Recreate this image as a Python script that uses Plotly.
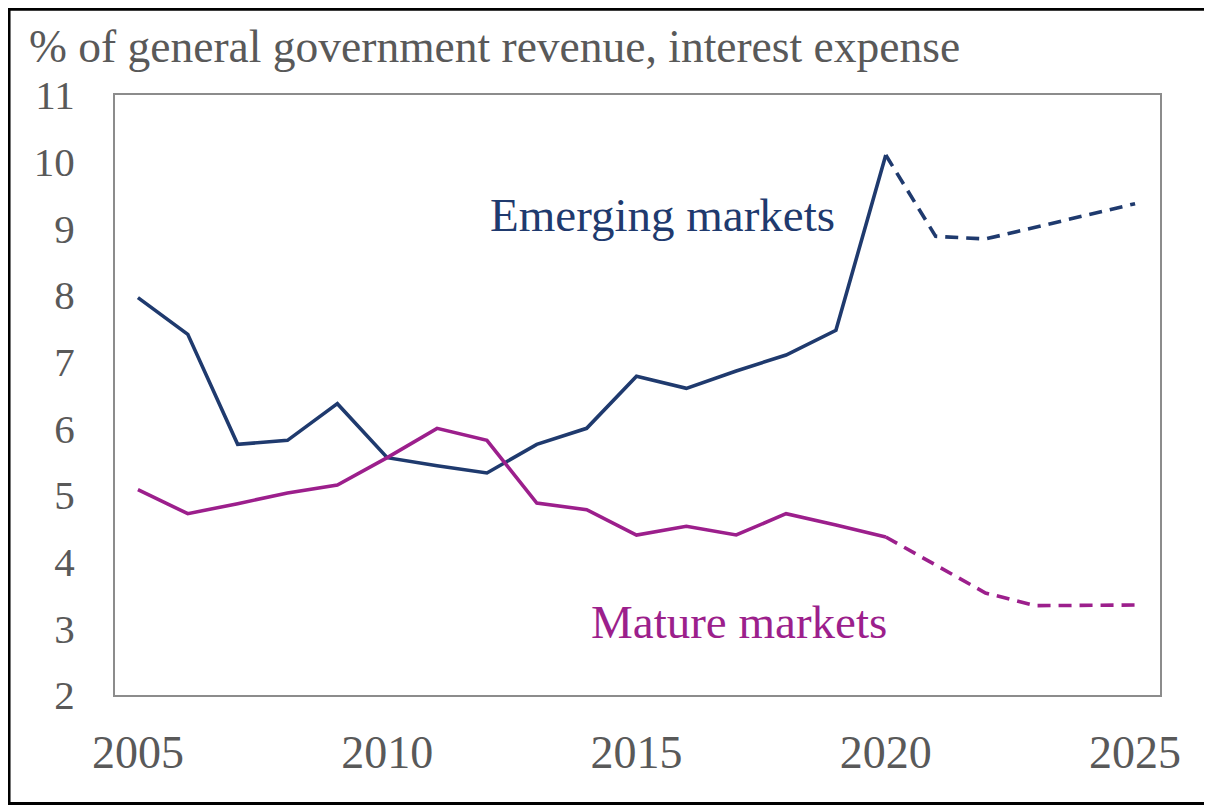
import plotly.graph_objects as go

years = list(range(2005, 2026))
emerging = [7.96, 7.41, 5.76, 5.82, 6.37, 5.56, 5.44, 5.33, 5.76, 6.00, 6.78,
            6.60, 6.86, 7.10, 7.47, 10.10, 8.88, 8.84, 9.02, 9.20, 9.37]
mature = [5.08, 4.72, 4.87, 5.03, 5.15, 5.56, 6.00, 5.82, 4.88, 4.78, 4.40,
          4.53, 4.40, 4.72, 4.55, 4.37, 3.95, 3.53, 3.34, 3.35, 3.35]
last_actual = 2020
x_ticks = [2005, 2010, 2015, 2020, 2025]
y_ticks = list(range(2, 12))

NAVY = "#1f3a6e"
PURPLE = "#9c1f8c"
GRAY = "#595959"
FONT = "Liberation Serif"

k = years.index(last_actual)

fig = go.Figure()
for vals, col in [(emerging, NAVY), (mature, PURPLE)]:
    fig.add_trace(go.Scatter(x=years[:k + 1], y=vals[:k + 1], mode="lines",
                             line=dict(color=col, width=3.6), showlegend=False,
                             hoverinfo="skip"))
    fig.add_trace(go.Scatter(x=years[k:], y=vals[k:], mode="lines",
                             line=dict(color=col, width=3.6, dash="13px,8px"),
                             showlegend=False, hoverinfo="skip"))

fig.add_annotation(x=2012.02, y=9.2, xref="x", yref="y", text="Emerging markets",
                   showarrow=False, xanchor="left", yanchor="middle",
                   font=dict(family=FONT, size=47, color=NAVY))
fig.add_annotation(x=2014.05, y=3.1, xref="x", yref="y", text="Mature markets",
                   showarrow=False, xanchor="left", yanchor="middle",
                   font=dict(family=FONT, size=47, color=PURPLE))
fig.add_annotation(x=-0.0843, y=1.08, xref="paper", yref="paper",
                   text="% of general government revenue, interest expense",
                   showarrow=False, xanchor="left", yanchor="middle",
                   font=dict(family=FONT, size=45.5, color=GRAY))

# outer black border
fig.add_shape(type="rect", xref="paper", yref="paper",
              x0=-0.1014, x1=1.0478, y0=-0.181, y1=1.143,
              line=dict(color="black", width=3), fillcolor="rgba(0,0,0,0)")

fig.update_xaxes(range=[2004.54, 2025.5], tickvals=x_ticks,
                 ticktext=[str(v) for v in x_ticks], showgrid=False,
                 zeroline=False, showline=True, mirror=True,
                 linecolor="#8c8c8c", linewidth=2, ticks="",
                 ticklabelstandoff=16,
                 tickfont=dict(family=FONT, size=46, color=GRAY))
fig.update_yaxes(range=[2, 11], tickvals=y_ticks,
                 ticktext=[str(v) for v in y_ticks], showgrid=False,
                 zeroline=False, showline=True, mirror=True,
                 linecolor="#8c8c8c", linewidth=2, ticks="",
                 ticklabelstandoff=30,
                 tickfont=dict(family=FONT, size=41, color=GRAY))

fig.update_layout(width=1204, height=797,
                  margin=dict(l=107, r=52, t=87, b=110),
                  paper_bgcolor="white", plot_bgcolor="white")

fig.write_html("out.html")
